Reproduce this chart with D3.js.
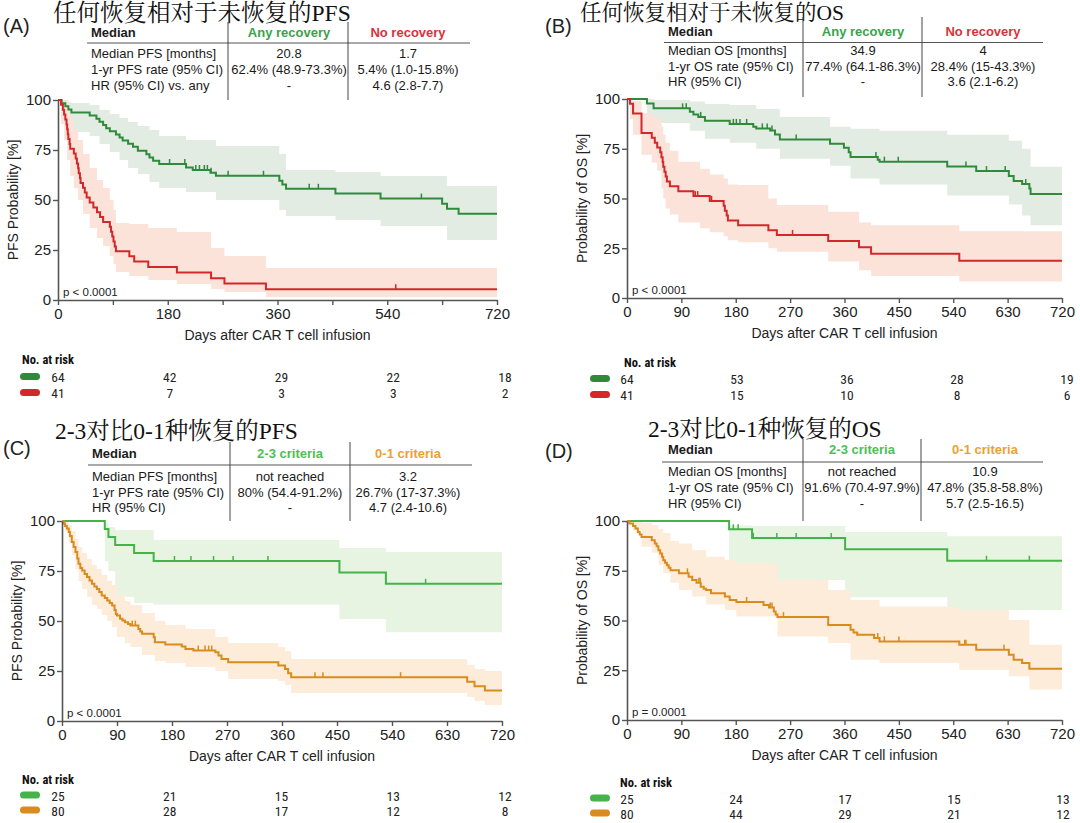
<!DOCTYPE html>
<html><head><meta charset="utf-8">
<script src="https://cdn.jsdelivr.net/npm/d3@7"></script>
<style>
body{margin:0;background:#fff;}
svg{display:block;font-family:"Liberation Sans",Arial,sans-serif;}
</style></head><body>
<svg id="chart" width="1080" height="823"></svg>
<script>
// ---------------- DATA ----------------
// Kaplan-Meier steps: [day, survival %]; CI steps: [day, lower %, upper %]; censor marks: days
const pfsAny = [[0,100],[6,98.4],[12,96.9],[17,95.3],[22,93.8],[52,92.2],[63,90.6],[68,89.1],[74,87.5],[79,85.9],[85,84.4],[95,82.8],[101,81.3],[106,79.7],[115,78.1],[123,76.6],[131,74.6],[145,72.9],[150,71.2],[156,69.6],[166,68.0],[210,66.3],[221,65.0],[250,63.6],[259,62.1],[363,59.6],[368,57.7],[374,55.6],[455,53.2],[529,50.7],[630,48.1],[638,45.6],[657,43.1]];
const pfsAnyCI = [[0,100,100],[6,94,100],[17,86,99],[22,84,98.5],[52,82,97.5],[68,78,95],[85,74,93],[101,70,91],[115,66,89],[131,63,87],[150,59,85],[166,56,82],[210,54,80],[259,50,77],[363,45,73],[374,42,65],[455,40,64],[529,37,62],[638,30,57]];
const pfsAnyCens = [183,208,226,232,240,245,251,279,337,412,427,596];

const pfsNone = [[0,100],[5,97.6],[8,95.1],[10,92.7],[12,90.2],[14,87.8],[15,85.4],[16,82.9],[17,80.5],[19,78.0],[20,75.6],[26,73.2],[29,70.7],[31,68.3],[33,65.9],[34,63.4],[36,61.0],[37,58.5],[41,56.1],[44,53.7],[47,51.2],[52,48.8],[58,46.3],[64,43.9],[69,41.5],[74,39.0],[85,36.6],[87,34.1],[89,31.7],[91,29.3],[93,26.8],[95,24.4],[117,21.9],[125,19.3],[148,16.5],[195,13.8],[251,10.9],[273,8.2],[341,5.4]];
const pfsNoneCI = [[0,100,100],[5,88,100],[10,80,99],[15,70,96],[20,62,90],[26,56,85],[33,50,80],[41,43,73],[52,36,66],[64,31,60],[74,27,56],[85,22,50],[91,18,45],[95,14,38.5],[117,12,38],[148,10,36],[195,8,34],[251,5.5,26],[273,4,22],[341,1.5,16]];
const pfsNoneCens = [554];

const osAny = [[0,100],[33,97.8],[44,95.3],[104,93.6],[110,92.2],[118,91.0],[129,89.1],[170,87.5],[209,86.1],[214,85.2],[237,84.2],[245,82.2],[253,79.7],[336,77.5],[359,75.5],[367,73.3],[370,70.9],[415,69.5],[418,68.5],[530,66.1],[578,63.8],[632,61.3],[640,58.8],[654,57.3],[666,55.0],[668,52.3]];
const osAnyCI = [[0,100,100],[33,91,100],[44,88,99.5],[104,84,98.7],[129,80,97.5],[170,78,97],[214,75,95],[253,70,91],[336,66.5,86],[370,60,85],[418,57,84],[530,51.5,82],[632,47,79],[654,41.5,75],[668,36.5,66]];
const osAnyCens = [92,98,122,176,181,187,198,224,232,240,280,336,412,426,449,561,595,626,660];

const osNone = [[0,100],[5,97.6],[10,92.7],[24,82.9],[41,80.5],[46,78.0],[50,75.6],[55,73.2],[57,70.7],[59,68.3],[60,65.9],[62,63.4],[64,61.0],[66,58.5],[71,56.1],[85,53.7],[110,51.2],[137,48.8],[160,46.3],[162,43.9],[165,41.5],[167,39.0],[184,36.6],[234,34.1],[248,31.7],[333,28.6],[384,25.5],[404,22.2],[550,18.7]];
const osNoneCI = [[0,100,100],[5,90,100],[10,82,99],[24,72,93],[41,68,91],[50,64,90],[57,55,86],[60,50,82],[64,45,78],[71,42,74],[85,38,68.5],[121,35,65],[137,33,62],[160,31,60],[167,29,57],[184,28,56.8],[234,25,50],[248,23.3,46.7],[333,18.3,43.4],[384,14,38],[404,11,36.6],[550,8.3,33.5]];
const osNoneCens = [113,117,140,274];

const pfsHigh = [[0,100],[70,96],[76,92],[87,88],[118,84],[150,80],[454,74.3],[530,68.6]];
const pfsHighCI = [[0,100,100],[70,80,99],[76,75,97],[87,62,95.5],[118,59,95.5],[150,58.3,90.5],[454,51,86.5],[530,44.4,84.5]];
const pfsHighCens = [184,211,248,280,337,595];

const pfsLow = [[0,100],[3,98.75],[5,97.5],[8,96.2],[11,94.5],[13,92.5],[16,89.5],[19,87],[22,84.5],[25,81.2],[27,78.6],[30,76.5],[33,75.3],[37,73.5],[41,72],[45,70.3],[49,68.6],[53,67.3],[57,66],[61,64.5],[65,62.8],[70,61.5],[74,60.3],[78,59],[82,57.8],[86,55.5],[88,53.5],[90,52.8],[95,51.1],[99,50.2],[103,49.4],[108,48.5],[112,47.7],[125,46],[128,44.8],[131,43.6],[150,41.9],[152,39.4],[169,38.2],[196,37.2],[202,36],[215,35.2],[251,34.4],[256,32.7],[261,31.0],[272,29.4],[354,27.7],[365,26.0],[370,23.9],[375,21.9],[663,19.6],[675,17.4],[692,15.2]];
const pfsLowCI = [[0,100,100],[5,95,100],[11,89,98],[16,83,95],[22,76,91],[27,70,87],[33,66,84],[41,62,81],[49,58,78],[57,56,76],[65,53,73],[74,50,70],[82,47,68],[90,42,63],[103,39,60],[112,37,58],[131,33,54],[152,30,50],[169,29,48],[202,27,46],[251,25,42],[272,21,39],[354,20,37],[365,18,35],[375,14,31],[663,12,28],[675,10,26],[692,8,25]];
const pfsLowCens = [115,120,223,234,240,245,414,427,554];

const osHigh = [[0,100],[169,95.8],[207,91.5],[361,85.8],[530,80.0]];
const osHighCI = [[0,100,100],[169,75.3,97.8],[207,70.3,97.5],[361,61.7,94.5],[530,55.3,92.3]];
const osHighCens = [176,184,209,248,280,338,595,666];

const osLow = [[0,100],[4,98.75],[10,97.5],[14,96.2],[18,94.5],[21,93.2],[24,92],[41,90.3],[46,88.7],[49,87.3],[52,85.3],[55,83.7],[58,82],[60,80.3],[63,79],[66,77.8],[69,76.5],[72,75.3],[86,73.7],[102,72],[108,70.3],[115,69],[122,67],[127,66],[131,65.3],[139,63.7],[162,62],[170,60.3],[181,59.3],[226,57.8],[235,56.5],[243,54.5],[246,53],[249,51.7],[333,47.8],[370,45.3],[375,44],[381,42.8],[409,41.2],[418,39.5],[550,37.8],[578,35.3],[632,32.8],[640,30.3],[654,28.7],[666,25.7]];
const osLowCI = [[0,100,100],[10,95.3,100],[24,87,99],[41,84,98],[52,78,96],[60,73.7,94],[72,69,90],[86,65.3,88.7],[108,62,85.3],[131,58,82],[162,55.3,80.3],[181,52,78.7],[249,42,70.3],[333,38.7,65.3],[370,30.3,60.3],[418,28.7,57],[550,25.3,55.3],[632,22,50.3],[666,15.3,37.8]];
const osLowCens = [100,119,121,198,237,240,259,415,426,450,559,561,624];

// Summary tables
const tableA = [["Median PFS [months]","20.8","1.7"],["1-yr PFS rate (95% CI)","62.4% (48.9-73.3%)","5.4% (1.0-15.8%)"],["HR (95% CI) vs. any","-","4.6 (2.8-7.7)"]];
const tableB = [["Median OS [months]","34.9","4"],["1-yr OS rate (95% CI)","77.4% (64.1-86.3%)","28.4% (15-43.3%)"],["HR (95% CI)","-","3.6 (2.1-6.2)"]];
const tableC = [["Median PFS [months]","not reached","3.2"],["1-yr PFS rate (95% CI)","80% (54.4-91.2%)","26.7% (17-37.3%)"],["HR (95% CI)","-","4.7 (2.4-10.6)"]];
const tableD = [["Median OS [months]","not reached","10.9"],["1-yr OS rate (95% CI)","91.6% (70.4-97.9%)","47.8% (35.8-58.8%)"],["HR (95% CI)","-","5.7 (2.5-16.5)"]];
const groupsAB = ["Any recovery","No recovery"];
const groupsCD = ["2-3 criteria","0-1 criteria"];

// Number at risk at days 0,180,360,540,720
const riskDays = [0,180,360,540,720];
const riskA = [[64,42,29,22,18],[41,7,3,3,2]];
const riskB = [[64,53,36,28,19],[41,15,10,8,6]];
const riskC = [[25,21,15,13,12],[80,28,17,12,8]];
const riskD = [[25,24,17,15,13],[80,44,29,21,12]];

const titles = ["任何恢复相对于未恢复的PFS","任何恢复相对于未恢复的OS","2-3对比0-1种恢复的PFS","2-3对比0-1种恢复的OS"];
const pValues = ["p < 0.0001","p < 0.0001","p < 0.0001","p = 0.0001"];
const yTicks = [0,25,50,75,100];
const xTicksCoarse = [0,180,360,540,720];
const xTicksMinor = [90,270,450,630];
const xTicksFine = [0,90,180,270,360,450,540,630,720];

// ---------------- STYLE ----------------
const C = {
  dkGreen:"#2f8a3c", red:"#d2282c", ltGreen:"#45b24a", orange:"#d98b1d",
  bandDk:"#e3ece2", bandRed:"#fbe3d9", bandLt:"#e6f4e1", bandOr:"#fdecd9",
  hAny:"#3ba24b", hNo:"#d6343a", hHigh:"#4cc056", hLow:"#e9a232"
};

const svg = d3.select("#chart");
const sansFont = '"Liberation Sans",Arial,sans-serif';
const narrowFont = '"Liberation Sans Narrow","Arial Narrow","Roboto Condensed","Liberation Sans",sans-serif';
const titleFont = '"Liberation Serif","Noto Serif CJK SC","Noto Sans CJK SC",serif';

const panels = [
  {label:"(A)", title:titles[0], p:pValues[0], ylab:"PFS Probability [%]",
   x0:58, x1:497, yT:100, yB:300, xt:xTicksCoarse, minor:xTicksMinor,
   titleX:53, titleY:21, titleSize:23.5, labX:3, labY:33,
   table:tableA, heads:groupsAB, headCols:[C.hAny,C.hNo], tLeft:91, tC2:289, tC3:408, tHead:37, tLine:43, tLineX:[87,470], tRows:[57.5,73.5,89.5], tDiv:[228,348], tDivY:[22,100],
   series:[{s:pfsAny,ci:pfsAnyCI,c:pfsAnyCens,col:C.dkGreen,band:C.bandDk},{s:pfsNone,ci:pfsNoneCI,c:pfsNoneCens,col:C.red,band:C.bandRed}],
   risk:riskA, riskCols:[C.dkGreen,C.red], riskRange:[58,505], riskLab:[22,364], riskRows:[382,398], pillX:20},
  {label:"(B)", title:titles[1], p:pValues[1], ylab:"Probability of OS [%]",
   x0:627, x1:1062, yT:99, yB:298, xt:xTicksFine, minor:[],
   titleX:580, titleY:19.5, titleSize:21.5, labX:545, labY:33,
   table:tableB, heads:groupsAB, headCols:[C.hAny,C.hNo], tLeft:668, tC2:863, tC3:983, tHead:36, tLine:42.5, tLineX:[664,1043], tRows:[55,70.5,86], tDiv:[803,922], tDivY:[17,97],
   series:[{s:osAny,ci:osAnyCI,c:osAnyCens,col:C.dkGreen,band:C.bandDk},{s:osNone,ci:osNoneCI,c:osNoneCens,col:C.red,band:C.bandRed}],
   risk:riskB, riskCols:[C.dkGreen,C.red], riskRange:[627,1067], riskLab:[624,367], riskRows:[384,400], pillX:590},
  {label:"(C)", title:titles[2], p:pValues[2], ylab:"PFS Probability [%]",
   x0:62, x1:502, yT:521, yB:721, xt:xTicksFine, minor:[],
   titleX:55, titleY:439, titleSize:23.5, labX:3, labY:455,
   table:tableC, heads:groupsCD, headCols:[C.hHigh,C.hLow], tLeft:92, tC2:290, tC3:408, tHead:457.5, tLine:465, tLineX:[88,472], tRows:[480.5,496.5,511.5], tDiv:[230,350], tDivY:[442,521],
   series:[{s:pfsHigh,ci:pfsHighCI,c:pfsHighCens,col:C.ltGreen,band:C.bandLt},{s:pfsLow,ci:pfsLowCI,c:pfsLowCens,col:C.orange,band:C.bandOr}],
   risk:riskC, riskCols:[C.ltGreen,C.orange], riskRange:[58,505], riskLab:[22,784], riskRows:[800.5,815.5], pillX:20},
  {label:"(D)", title:titles[3], p:pValues[3], ylab:"Probability of OS [%]",
   x0:627, x1:1062, yT:521, yB:720, xt:xTicksFine, minor:[],
   titleX:648, titleY:437, titleSize:23.5, labX:545, labY:458,
   table:tableD, heads:groupsCD, headCols:[C.hHigh,C.hLow], tLeft:668, tC2:862, tC3:985, tHead:453.5, tLine:462, tLineX:[662,1043], tRows:[475.5,492,507.5], tDiv:[803,921], tDivY:[439,521],
   series:[{s:osHigh,ci:osHighCI,c:osHighCens,col:C.ltGreen,band:C.bandLt},{s:osLow,ci:osLowCI,c:osLowCens,col:C.orange,band:C.bandOr}],
   risk:riskD, riskCols:[C.ltGreen,C.orange], riskRange:[627,1063], riskLab:[620,787], riskRows:[803.5,818.5], pillX:590}
];

function valueAt(steps, t){
  const i = d3.bisector(d=>d[0]).right(steps, t) - 1;
  return steps[Math.max(0,i)][1];
}

panels.forEach(P => {
  const g = svg.append("g");
  const x = d3.scaleLinear().domain([0,720]).range([P.x0,P.x1]);
  const y = d3.scaleLinear().domain([0,100]).range([P.yB,P.yT]);

  // title & label
  g.append("text").attr("x",P.titleX).attr("y",P.titleY).attr("font-family",titleFont).attr("font-size",P.titleSize).attr("fill","#111").text(P.title);
  g.append("text").attr("x",P.labX).attr("y",P.labY).attr("font-size",20).attr("fill","#222").text(P.label);

  // summary table
  const t = g.append("g").attr("font-size",13).attr("fill","#1a1a1a");
  t.append("text").attr("x",P.tLeft).attr("y",P.tHead).attr("font-weight","bold").text("Median");
  t.append("text").attr("x",P.tC2).attr("y",P.tHead).attr("text-anchor","middle").attr("font-weight","bold").attr("fill",P.headCols[0]).text(P.heads[0]);
  t.append("text").attr("x",P.tC3).attr("y",P.tHead).attr("text-anchor","middle").attr("font-weight","bold").attr("fill",P.headCols[1]).text(P.heads[1]);
  t.append("line").attr("x1",P.tLineX[0]).attr("x2",P.tLineX[1]).attr("y1",P.tLine).attr("y2",P.tLine).attr("stroke","#555").attr("stroke-width",1.2);
  P.tDiv.forEach(dx => t.append("line").attr("x1",dx).attr("x2",dx).attr("y1",P.tDivY[0]).attr("y2",P.tDivY[1]).attr("stroke","#444").attr("stroke-width",1));
  P.table.forEach((row,i) => {
    t.append("text").attr("x",P.tLeft).attr("y",P.tRows[i]).text(row[0]);
    t.append("text").attr("x",P.tC2).attr("y",P.tRows[i]).attr("text-anchor","middle").text(row[1]);
    t.append("text").attr("x",P.tC3).attr("y",P.tRows[i]).attr("text-anchor","middle").text(row[2]);
  });

  // CI bands
  P.series.forEach(S => {
    const last = S.ci[S.ci.length-1];
    const pts = S.ci.concat([[720,last[1],last[2]]]);
    g.append("path").datum(pts)
      .attr("d", d3.area().curve(d3.curveStepAfter).x(d=>x(d[0])).y0(d=>y(d[1])).y1(d=>y(d[2])))
      .attr("fill",S.band).attr("stroke","none");
  });
  // curves
  P.series.forEach(S => {
    const last = S.s[S.s.length-1];
    const pts = S.s.concat([[720,last[1]]]);
    g.append("path").datum(pts)
      .attr("d", d3.line().curve(d3.curveStepAfter).x(d=>x(d[0])).y(d=>y(d[1])))
      .attr("fill","none").attr("stroke",S.col).attr("stroke-width",2);
    g.selectAll(null).data(S.c).join("line")
      .attr("x1",d=>x(d)).attr("x2",d=>x(d))
      .attr("y1",d=>y(valueAt(S.s,d))).attr("y2",d=>y(valueAt(S.s,d))-5)
      .attr("stroke",S.col).attr("stroke-width",1.5);
  });

  // axes
  g.append("g").attr("transform",`translate(0,${P.yB})`)
    .call(d3.axisBottom(x).tickValues(P.xt).tickSize(5).tickSizeOuter(0).tickPadding(3));
  if (P.minor.length) {
    g.append("g").attr("transform",`translate(0,${P.yB})`)
      .call(d3.axisBottom(x).tickValues(P.minor).tickSize(5).tickFormat("")).select(".domain").remove();
  }
  g.append("g").attr("transform",`translate(${P.x0},0)`)
    .call(d3.axisLeft(y).tickValues(yTicks).tickSize(5).tickSizeOuter(0).tickPadding(2));
  g.selectAll(".domain").attr("stroke","#555").attr("stroke-width",1.6);
  g.selectAll(".tick line").attr("stroke","#555").attr("stroke-width",1.4);
  g.selectAll(".tick text").attr("font-size",15).attr("font-family",sansFont).attr("fill","#222");

  g.append("text").attr("x",(P.x0+P.x1)/2).attr("y",P.yB+40).attr("text-anchor","middle").attr("font-size",14).attr("fill","#222").text("Days after CAR T cell infusion");
  g.append("text").attr("transform",`translate(${P.x0-40},${(P.yT+P.yB)/2}) rotate(-90)`).attr("text-anchor","middle").attr("font-size",14).attr("fill","#222").text(P.ylab);
  g.append("text").attr("x",P.x0+5).attr("y",P.yB-4).attr("font-size",11.5).attr("fill","#222").text(P.p);

  // number at risk
  const rx = d3.scaleLinear().domain([0,720]).range(P.riskRange);
  g.append("text").attr("x",P.riskLab[0]).attr("y",P.riskLab[1]).attr("font-family",narrowFont).attr("font-weight","bold").attr("font-size",12.5).attr("fill","#111").text("No. at risk");
  P.risk.forEach((row,i) => {
    g.append("rect").attr("x",P.pillX).attr("y",P.riskRows[i]-9).attr("width",20).attr("height",7).attr("rx",3.5).attr("fill",P.riskCols[i]);
    g.selectAll(null).data(row).join("text")
      .attr("x",(d,j)=>rx(riskDays[j])).attr("y",P.riskRows[i])
      .attr("text-anchor","middle").attr("font-family",narrowFont).attr("font-size",13.5).attr("fill","#222")
      .text(d=>d);
  });
});
</script>
</body></html>
